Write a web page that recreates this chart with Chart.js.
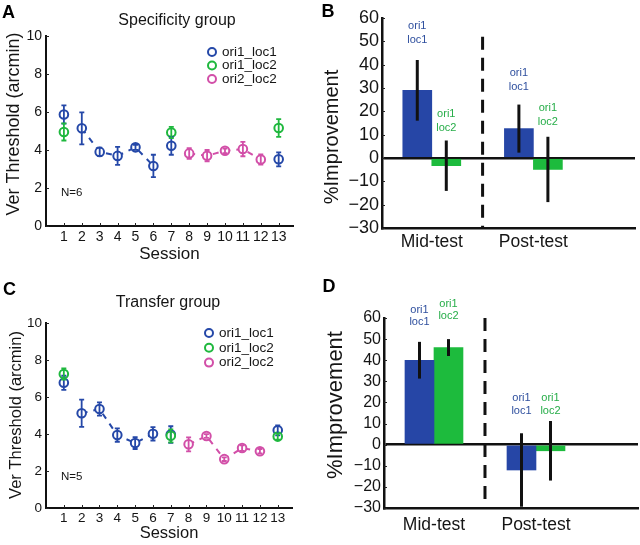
<!DOCTYPE html>
<html><head><meta charset="utf-8">
<script src="https://cdn.jsdelivr.net/npm/chart.js@4.4.0/dist/chart.umd.min.js"></script>
<style>
html,body{margin:0;padding:0;background:#fff;width:640px;height:545px;overflow:hidden}
canvas{position:absolute}
</style></head><body>
<canvas id="cA" style="left:0;top:0" width="320" height="270"></canvas>
<canvas id="cB" style="left:320px;top:0" width="320" height="270"></canvas>
<canvas id="cC" style="left:0;top:270px" width="320" height="275"></canvas>
<canvas id="cD" style="left:320px;top:270px" width="320" height="275"></canvas>
<script>
// ---------------- DATA ----------------
const sessions = [1,2,3,4,5,6,7,8,9,10,11,12,13];
const seriesNames = ['ori1_loc1','ori1_loc2','ori2_loc2'];
const yTicksThreshold = [0,2,4,6,8,10];
const yTicksImprovement = [-30,-20,-10,0,10,20,30,40,50,60];

// Panel A - Specificity group (Ver threshold, arcmin)
const specLoc1Sessions = [1,2,3,4,5,6,7,13];
const specLoc1Mean = [5.87,5.14,3.90,3.69,4.14,3.16,4.22,3.51];
const specLoc1Err  = [0.48,0.84,0.22,0.47,0.13,0.59,0.47,0.37];
const specLoc2Sessions = [1,7,13];
const specLoc2Mean = [4.95,4.92,5.16];
const specLoc2Err  = [0.45,0.30,0.47];
const specOri2Sessions = [8,9,10,11,12];
const specOri2Mean = [3.82,3.70,3.96,4.05,3.50];
const specOri2Err  = [0.28,0.30,0.12,0.38,0.27];

// Panel C - Transfer group
const transLoc1Sessions = [1,2,3,4,5,6,7,13];
const transLoc1Mean = [6.77,5.12,5.35,3.94,3.51,4.01,3.97,4.20];
const transLoc1Err  = [0.38,0.74,0.36,0.36,0.32,0.36,0.45,0.27];
const transLoc2Sessions = [1,7,13];
const transLoc2Mean = [7.24,3.90,3.86];
const transLoc2Err  = [0.30,0.35,0.16];
const transOri2Sessions = [8,9,10,11,12];
const transOri2Mean = [3.44,3.89,2.64,3.24,3.07];
const transOri2Err  = [0.38,0.10,0.10,0.15,0.12];

// Panels B, D - % improvement
const testCategories = ['Mid-test','Post-test'];
const specImpLoc1 = [29.0,12.6];   const specImpLoc1Err = [13.0,10.3];
const specImpLoc2 = [-3.3,-4.9];   const specImpLoc2Err = [10.8,14.0];
const transImpLoc1 = [40.0,-12.0]; const transImpLoc1Err = [8.7,17.4];
const transImpLoc2 = [46.0,-2.9];  const transImpLoc2Err = [4.0,14.1];

// ---------------- STYLE ----------------
const FONT = "'Liberation Sans', Arial, Helvetica, sans-serif";
const BLUE = '#2548a8', GREEN = '#1fb83e', PINK = '#d24fa8';
const BAR_BLUE = '#2646a6', BAR_GREEN = '#1dbb3d';
const TXT_BLUE = '#2e4f9e', TXT_GREEN = '#26ad48';
Chart.defaults.font.family = FONT;
Chart.defaults.color = '#151515';
Chart.defaults.animation = false;
Chart.defaults.events = [];
Chart.defaults.plugins.legend.display = false;
Chart.defaults.plugins.tooltip.enabled = false;

function txt(ctx, s, x, y, font, color, align, base) {
  ctx.font = font; ctx.fillStyle = color || '#151515';
  ctx.textAlign = align || 'left'; ctx.textBaseline = base || 'alphabetic';
  ctx.fillText(s, x, y);
}
function vTitle(ctx, s, x, y, size) {
  ctx.save(); ctx.translate(x, y); ctx.rotate(-Math.PI/2);
  txt(ctx, s, 0, 0, size + 'px ' + FONT, '#151515', 'center', 'middle');
  ctx.restore();
}

// ---------------- SESSION PANELS ----------------
function sessionChart(id, o) {
  const P = (s, m) => s.map((x, i) => ({x, y: m[i]}));
  const series = [
    {name: seriesNames[1], color: GREEN, s: o.loc2S, m: o.loc2M, e: o.loc2E},
    {name: seriesNames[0], color: BLUE,  s: o.loc1S, m: o.loc1M, e: o.loc1E},
    {name: seriesNames[2], color: PINK,  s: o.ori2S, m: o.ori2M, e: o.ori2E}
  ];
  const pointSets = series.map(sr => ({
    label: sr.name, data: P(sr.s, sr.m), showLine: false,
    pointRadius: 4.3, pointBorderWidth: 2, pointBorderColor: sr.color,
    pointBackgroundColor: '#fff', borderColor: sr.color, backgroundColor: '#fff'
  }));
  const lineSets = [
    {data: P(o.loc1S, o.loc1M).filter(p => p.x >= 2 && p.x <= 6), color: BLUE},
    {data: P(o.ori2S, o.ori2M), color: PINK}
  ].map(l => ({data: l.data, showLine: true, pointRadius: 0, borderColor: l.color,
    borderWidth: 2, borderDash: [6, 6], fill: false}));

  const deco = {
    id: 'deco' + id,
    afterDatasetsDraw(chart) {
      const {ctx} = chart, xs = chart.scales.x, ys = chart.scales.y;
      ctx.save(); ctx.lineWidth = 1.8;
      [series[2], series[1], series[0]].forEach(sr => {
        ctx.strokeStyle = sr.color;
        sr.s.forEach((sx, i) => {
          const x = xs.getPixelForValue(sx);
          const y1 = ys.getPixelForValue(sr.m[i] + sr.e[i]);
          const y2 = ys.getPixelForValue(sr.m[i] - sr.e[i]);
          ctx.beginPath();
          ctx.moveTo(x, y1); ctx.lineTo(x, y2);
          ctx.moveTo(x - 2.5, y1); ctx.lineTo(x + 2.5, y1);
          ctx.moveTo(x - 2.5, y2); ctx.lineTo(x + 2.5, y2);
          ctx.stroke();
        });
      });
      ctx.restore();
    },
    afterDraw(chart) {
      const {ctx, chartArea: a} = chart, xs = chart.scales.x, ys = chart.scales.y;
      ctx.save();
      ctx.strokeStyle = '#222'; ctx.lineWidth = 1;
      ys.ticks.forEach(t => { const y = Math.round(ys.getPixelForValue(t.value)) + 0.5;
        ctx.beginPath(); ctx.moveTo(a.left, y); ctx.lineTo(a.left + 3, y); ctx.stroke(); });
      xs.ticks.forEach(t => { const x = Math.round(xs.getPixelForValue(t.value)) + 0.5;
        ctx.beginPath(); ctx.moveTo(x, a.bottom); ctx.lineTo(x, a.bottom - 3); ctx.stroke(); });
      txt(ctx, o.letter, o.letterX, o.letterY, 'bold 18px ' + FONT, '#000');
      txt(ctx, o.title, o.titleX, o.titleY, '16px ' + FONT, '#151515', 'center', 'middle');
      vTitle(ctx, 'Ver Threshold (arcmin)', o.yTitleX, o.yTitleY, o.yTitleSize);
      txt(ctx, o.nText, o.nX, o.nY, '11.5px ' + FONT, '#151515', 'left', 'middle');
      const order = [series[1], series[0], series[2]];
      order.forEach((sr, i) => {
        const y = o.legY + i * o.legGap;
        ctx.strokeStyle = sr.color; ctx.lineWidth = 2;
        ctx.beginPath(); ctx.arc(o.legX, y, 4, 0, Math.PI * 2); ctx.stroke();
        txt(ctx, sr.name, o.legX + 10, y, '13.5px ' + FONT, '#151515', 'left', 'middle');
      });
      ctx.restore();
    }
  };

  return new Chart(document.getElementById(id), {
    type: 'scatter',
    data: {datasets: [...pointSets, ...lineSets]},
    options: {
      responsive: false, devicePixelRatio: 1,
      layout: {padding: {left: 0, top: o.padT, right: o.padR, bottom: 0}},
      scales: {
        x: {type: 'linear', min: 0, max: 13.8,
          afterBuildTicks: s => { s.ticks = sessions.map(v => ({value: v})); },
          ticks: {autoSkip: false, maxRotation: 0, padding: o.xPad, font: {size: o.tickSize}, color: '#151515'},
          grid: {display: false, drawTicks: false},
          border: {display: true, color: '#111', width: 2},
          title: {display: true, text: 'Session', font: {size: o.xTitleSize}, color: '#151515', padding: {top: 0, bottom: o.xTitlePad}},
          afterFit: s => { s.height = o.xH; }
        },
        y: {min: 0, max: 10,
          afterBuildTicks: s => { s.ticks = yTicksThreshold.map(v => ({value: v})); },
          ticks: {autoSkip: false, padding: 4, font: {size: o.tickSize}, color: '#151515'},
          grid: {display: false, drawTicks: false},
          border: {display: true, color: '#111', width: 2},
          afterFit: s => { s.width = 46; }
        }
      }
    },
    plugins: [deco]
  });
}

// ---------------- IMPROVEMENT PANELS ----------------
function improvementChart(id, o) {
  const fmt = v => (v < 0 ? '\u2212' + Math.abs(v) : String(v));
  const groups = [
    {name: seriesNames[0], m: o.loc1, e: o.loc1E, color: BAR_BLUE, tcol: TXT_BLUE, lab: ['ori1', 'loc1'], labY: o.loc1LabY},
    {name: seriesNames[1], m: o.loc2, e: o.loc2E, color: BAR_GREEN, tcol: TXT_GREEN, lab: ['ori1', 'loc2'], labY: o.loc2LabY}
  ];
  const deco = {
    id: 'deco' + id,
    afterDatasetsDraw(chart) {
      const {ctx, chartArea: a} = chart, xs = chart.scales.x, ys = chart.scales.y;
      ctx.save();
      const xd = xs.getPixelForValue(1.5);
      ctx.strokeStyle = '#111'; ctx.lineWidth = 3; ctx.setLineDash([13, 8]);
      ctx.beginPath(); ctx.moveTo(xd, ys.getPixelForValue(o.dividerTop)); ctx.lineTo(xd, a.bottom); ctx.stroke();
      ctx.setLineDash([]);
      groups.forEach((g, di) => {
        chart.getDatasetMeta(di).data.forEach((bar, j) => {
          ctx.strokeStyle = '#111'; ctx.lineWidth = 3;
          ctx.beginPath();
          ctx.moveTo(bar.x, ys.getPixelForValue(g.m[j] + g.e[j]));
          ctx.lineTo(bar.x, ys.getPixelForValue(Math.max(-30, g.m[j] - g.e[j])));
          ctx.stroke();
          const ly = ys.getPixelForValue(g.labY[j]);
          txt(ctx, g.lab[0], bar.x, ly, '11px ' + FONT, g.tcol, 'center', 'middle');
          txt(ctx, g.lab[1], bar.x, ly + o.labGap, '11px ' + FONT, g.tcol, 'center', 'middle');
        });
      });
      ctx.restore();
    },
    afterDraw(chart) {
      const {ctx, chartArea: a} = chart, ys = chart.scales.y;
      ctx.save();
      ctx.strokeStyle = '#222'; ctx.lineWidth = 1;
      ys.ticks.forEach(t => { const y = Math.round(ys.getPixelForValue(t.value)) + 0.5;
        ctx.beginPath(); ctx.moveTo(a.left, y); ctx.lineTo(a.left + 3, y); ctx.stroke(); });
      txt(ctx, o.letter, o.letterX, o.letterY, 'bold 18px ' + FONT, '#000');
      vTitle(ctx, '%Improvement', o.yTitleX, o.yTitleY, o.yTitleSize);
      ctx.restore();
    }
  };
  return new Chart(document.getElementById(id), {
    type: 'bar',
    data: {datasets: groups.map(g => ({
      label: g.name,
      data: testCategories.map((c, i) => ({x: i + 1, y: g.m[i]})),
      backgroundColor: g.color, borderWidth: 0, barThickness: 29
    }))},
    options: {
      responsive: false, devicePixelRatio: 1,
      layout: {padding: {left: 0, top: o.padT, right: o.padR, bottom: 0}},
      scales: {
        x: {type: 'linear', min: 0.51, max: 3, offset: false,
          afterBuildTicks: s => { s.ticks = testCategories.map((c, i) => ({value: i + 1})); },
          ticks: {autoSkip: false, maxRotation: 0, padding: o.xPad, font: {size: 17.5}, color: '#151515',
            callback: (v, i) => testCategories[i]},
          grid: {display: false, drawTicks: false},
          border: {display: true, color: '#111', width: 2.5},
          afterFit: s => { s.height = o.xH; }
        },
        y: {min: -30, max: 60, z: 1,
          afterBuildTicks: s => { s.ticks = yTicksImprovement.map(v => ({value: v})); },
          ticks: {autoSkip: false, padding: 3, font: {size: o.tickSize}, color: '#151515', callback: v => fmt(v)},
          grid: {drawTicks: false, lineWidth: 2.5,
            color: c => (c.tick && c.tick.value === 0 ? '#111' : 'rgba(0,0,0,0)')},
          border: {display: true, color: '#111', width: 2.5},
          afterFit: s => { s.width = o.yW; }
        }
      }
    },
    plugins: [deco]
  });
}

// ---------------- BUILD ----------------
sessionChart('cA', {
  loc1S: specLoc1Sessions, loc1M: specLoc1Mean, loc1E: specLoc1Err,
  loc2S: specLoc2Sessions, loc2M: specLoc2Mean, loc2E: specLoc2Err,
  ori2S: specOri2Sessions, ori2M: specOri2Mean, ori2E: specOri2Err,
  padT: 36, padR: 27, xH: 44, xPad: 3, tickSize: 14, xTitleSize: 17, xTitlePad: 5,
  letter: 'A', letterX: 2, letterY: 18,
  title: 'Specificity group', titleX: 177, titleY: 21,
  yTitleX: 14, yTitleY: 124, yTitleSize: 18,
  nText: 'N=6', nX: 61, nY: 193,
  legX: 212, legY: 52, legGap: 13.5
});
improvementChart('cB', {
  loc1: specImpLoc1, loc1E: specImpLoc1Err, loc2: specImpLoc2, loc2E: specImpLoc2Err,
  padT: 18, padR: 5, xH: 42, xPad: 3.5, yW: 62, tickSize: 18,
  dividerTop: 52, loc1LabY: [56.4, 36.4], loc2LabY: [18.7, 21.3], labGap: 13.5,
  letter: 'B', letterX: 1.5, letterY: 17,
  yTitleX: 12, yTitleY: 137, yTitleSize: 20
});
sessionChart('cC', {
  loc1S: transLoc1Sessions, loc1M: transLoc1Mean, loc1E: transLoc1Err,
  loc2S: transLoc2Sessions, loc2M: transLoc2Mean, loc2E: transLoc2Err,
  ori2S: transOri2Sessions, ori2M: transOri2Mean, ori2E: transOri2Err,
  padT: 53, padR: 28, xH: 37, xPad: 2.5, tickSize: 13.5, xTitleSize: 16.5, xTitlePad: 2,
  letter: 'C', letterX: 3, letterY: 25,
  title: 'Transfer group', titleX: 168, titleY: 33,
  yTitleX: 16, yTitleY: 145, yTitleSize: 16.5,
  nText: 'N=5', nX: 61, nY: 207,
  legX: 209, legY: 63, legGap: 14.8
});
improvementChart('cD', {
  loc1: transImpLoc1, loc1E: transImpLoc1Err, loc2: transImpLoc2, loc2E: transImpLoc2Err,
  padT: 48, padR: 2, xH: 37, xPad: 7, yW: 64, tickSize: 16,
  dividerTop: 60, loc1LabY: [64.0, 21.9], loc2LabY: [66.8, 21.9], labGap: 12.5,
  letter: 'D', letterX: 2.5, letterY: 22,
  yTitleX: 15.5, yTitleY: 135, yTitleSize: 22
});
</script>
</body></html>
